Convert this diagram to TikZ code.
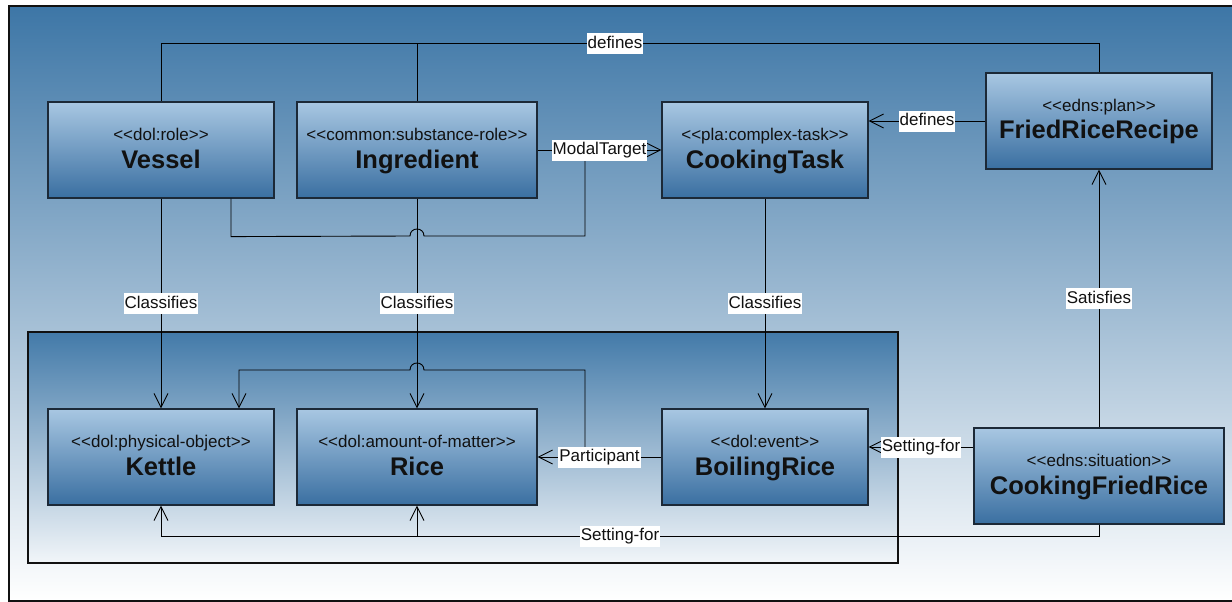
\documentclass[tikz,border=0pt]{standalone}
\usepackage{fontspec}
\setmainfont[Ligatures=TeXOff]{Liberation Sans}
\usetikzlibrary{arrows.meta}
\definecolor{bgtop}{HTML}{3D76A6}
\definecolor{boxtop}{HTML}{A8C7E2}
\definecolor{boxbot}{HTML}{3A6FA1}
\definecolor{boxline}{HTML}{1C2937}
\definecolor{ink}{HTML}{111111}
\begin{document}
\begin{tikzpicture}[x=1pt,y=-1pt,
 umlbox/.style={draw=boxline, line width=1.2pt, top color=boxtop, bottom color=boxbot, minimum height=96pt, inner sep=0pt},
 stt/.style={anchor=base, font=\fontsize{17}{19}\selectfont, text=ink, inner sep=0pt},
 nm/.style={anchor=base, font=\fontsize{25.5}{28}\selectfont\bfseries, text=ink, inner sep=0pt},
 lbl/.style={fill=white, font=\fontsize{17}{19}\selectfont, text=ink, inner xsep=1pt, inner ysep=2.5pt, text height=12.5pt, text depth=3.5pt},
 conn/.style={draw=black, line width=0.9pt},
 arr/.style={conn, -{Straight Barb[length=14pt,width=14pt]}}
]
\useasboundingbox (0,0) rectangle (1232,602);
\clip (0,0) rectangle (1232,602);
\fill[white] (0,0) rectangle (1232,602);
\shade[top color=bgtop, bottom color=white] (9,6) rectangle (1250,601);
\draw[line width=1.3pt, ink] (9,6) rectangle (1250,601);

% inner container
\shade[top color=bgtop!97!white, bottom color=white!93!bgtop] (28,332) rectangle (898,563);
\draw[line width=1.3pt, ink] (28,332) rectangle (898,563);

% boxes
\node[umlbox, minimum width=226pt] (vessel) at (161,150) {};
\node[stt] (vessel-s) at (161,140) {<<dol:role>>};
\node[nm] (vessel-n) at (161,168) {Vessel};

\node[umlbox, minimum width=240pt] (ingr) at (417,150) {};
\node[stt] (ingr-s) at (417,140) {<<common:substance-role>>};
\node[nm] (ingr-n) at (417,168) {Ingredient};

\node[umlbox, minimum width=206pt] (task) at (765,150) {};
\node[stt] (task-s) at (765,140) {<<pla:complex-task>>};
\node[nm] (task-n) at (765,168) {CookingTask};

\node[umlbox, minimum width=226pt] (frr) at (1099,121) {};
\node[stt] (frr-s) at (1099,111) {<<edns:plan>>};
\node[nm] (frr-n) at (1099,139) {FriedRiceRecipe};

\node[umlbox, minimum width=226pt] (kettle) at (161,457) {};
\node[stt] (kettle-s) at (161,447) {<<dol:physical-object>>};
\node[nm] (kettle-n) at (161,475) {Kettle};

\node[umlbox, minimum width=240pt] (rice) at (417,457) {};
\node[stt] (rice-s) at (417,447) {<<dol:amount-of-matter>>};
\node[nm] (rice-n) at (417,475) {Rice};

\node[umlbox, minimum width=206pt] (boil) at (765,457) {};
\node[stt] (boil-s) at (765,447) {<<dol:event>>};
\node[nm] (boil-n) at (765,475) {BoilingRice};

\node[umlbox, minimum width=250pt] (cfr) at (1099,476) {};
\node[stt] (cfr-s) at (1099,466) {<<edns:situation>>};
\node[nm] (cfr-n) at (1099,494) {CookingFriedRice};

% helper coordinates
\coordinate (mt) at (585,150);
\coordinate (pt) at (585,457);
\coordinate (sfy) at (0,447);
\coordinate (sfj) at (417,536);
\coordinate (dfj) at (417,44);

% lines attached to ModalTarget and Participant
\draw[conn] ([xshift=70pt]vessel.south) -- ++(0,38) -- (410,236) .. controls (410,226.7) and (424,226.7) .. (424,236) -- (585,236) -- (mt);
\draw[arr] (pt) -- (585,370) -- (424,370) .. controls (424,360.7) and (410,360.7) .. (410,370) -- (239,370) -- ([xshift=78pt]kettle.north);

% top defines
\draw[conn] (frr.north) -- ++(0,-29) -| (vessel.north);
\draw[conn] (ingr.north) -- (dfj);
\node[lbl] (deftop) at (615,44) {defines};

% bottom setting-for
\draw[arr] (cfr.south) -- ++(0,12) -| (kettle.south);
\draw[arr] (sfj) -- (rice.south);
\node[lbl] (sfbot) at (620,536) {Setting-for};

% labelled connectors
\draw[arr] (frr.west) -- (task.east |- frr.west) node[lbl, midway] {defines};
\draw[arr] (ingr.east) -- (task.west) node[lbl, midway] {ModalTarget};
\draw[arr] (vessel.south) -- (kettle.north) node[lbl, midway] {Classifies};
\draw[arr] (ingr.south) -- (rice.north) node[lbl, midway] {Classifies};
\draw[arr] (task.south) -- (boil.north) node[lbl, midway] {Classifies};
\draw[arr] (boil.west) -- (rice.east) node[lbl, midway] {Participant};
\draw[arr] (cfr.west |- sfy) -- (boil.east |- sfy) node[lbl, midway] {Setting-for};
\draw[arr] (cfr.north) -- (frr.south) node[lbl, midway] {Satisfies};
\end{tikzpicture}
\end{document}
